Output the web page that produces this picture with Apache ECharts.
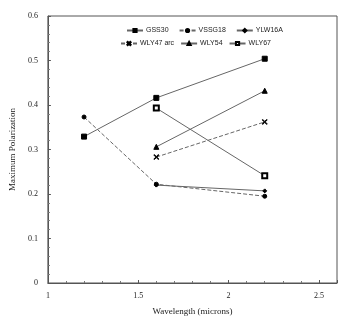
<!DOCTYPE html>
<html>
<head>
<meta charset="utf-8">
<script src="https://cdn.jsdelivr.net/npm/echarts@6/dist/echarts.min.js"></script>
<style>
  html, body { margin: 0; padding: 0; background: #fff; }
  #chart { width: 347px; height: 321px; }
</style>
</head>
<body>
<div id="chart"></div>
<script>
// wavelengths (microns) and max polarization per source
var gss30 = [[1.2, 0.329], [1.6, 0.416], [2.2, 0.504]];
var vssg18 = [[1.2, 0.373], [1.6, 0.222], [2.2, 0.195]];
var ylw16a = [[1.6, 0.220], [2.2, 0.207]];
var wly47 = [[1.6, 0.283], [2.2, 0.362]];
var wly54 = [[1.6, 0.306], [2.2, 0.432]];
var wly67 = [[1.6, 0.393], [2.2, 0.241]];

var font = 'Liberation Serif';
var lineCol = '#666';
var xPath = 'path://M0,1L1,0L5,4L9,0L10,1L6,5L10,9L9,10L5,6L1,10L0,9L4,5Z';

function mkSeries(name, data, symbol, size, dashed) {
  return {
    name: name,
    type: 'line',
    data: data,
    symbol: symbol,
    symbolSize: size,
    lineStyle: { color: lineCol, width: 1, type: dashed ? [4, 2] : 'solid' },
    itemStyle: { color: '#000', borderColor: '#000', borderWidth: 1 },
    emphasis: { disabled: true }
  };
}

var legendText = { fontSize: 7, color: '#222', fontFamily: 'Liberation Sans', padding: [0, 0, 0, -2] };

var chart = echarts.init(document.getElementById('chart'));
chart.setOption({
  animation: false,
  textStyle: { fontFamily: font },
  legend: [{
    data: ['GSS30', 'VSSG18', 'YLW16A'],
    top: 22, left: 121,
    itemWidth: 16, itemHeight: 4, itemGap: 10,
    textStyle: legendText
  }, {
    data: ['WLY47 arc', 'WLY54', 'WLY67'],
    top: 35, left: 115,
    itemWidth: 16, itemHeight: 4, itemGap: 6,
    textStyle: legendText
  }],
  grid: { left: 40, right: 10, top: 16, bottom: 38, show: true, borderColor: '#555', borderWidth: 1 },
  xAxis: {
    type: 'value', min: 1, max: 2.6, interval: 0.5,
    name: 'Wavelength (microns)', nameLocation: 'middle', nameGap: 24,
    nameTextStyle: { fontSize: 9, color: '#222' },
    axisLine: { lineStyle: { color: '#555' } },
    axisTick: { inside: true, length: 3, lineStyle: { color: '#555' } },
    minorTick: { show: true, splitNumber: 5, length: 2, lineStyle: { color: '#777' } },
    axisLabel: { fontSize: 8, color: '#222', margin: 9, showMaxLabel: false },
    splitLine: { show: false }
  },
  yAxis: {
    type: 'value', min: 0, max: 0.6, interval: 0.1,
    name: 'Maximum Polarization', nameLocation: 'middle', nameGap: 26,
    nameTextStyle: { fontSize: 9, color: '#222' },
    axisLine: { lineStyle: { color: '#555' } },
    axisTick: { inside: true, length: 3, lineStyle: { color: '#555' } },
    minorTick: { show: true, splitNumber: 5, length: 2, lineStyle: { color: '#777' } },
    axisLabel: { fontSize: 8, color: '#222', margin: 10 },
    splitLine: { show: false }
  },
  series: [
    mkSeries('GSS30', gss30, 'rect', 5, false),
    mkSeries('VSSG18', vssg18, 'circle', 4, true),
    mkSeries('YLW16A', ylw16a, 'diamond', 4, false),
    mkSeries('WLY47 arc', wly47, xPath, 5, true),
    mkSeries('WLY54', wly54, 'triangle', 5, false),
    mkSeries('WLY67', wly67, 'emptyRect', 5, false)
  ]
});
</script>
</body>
</html>
